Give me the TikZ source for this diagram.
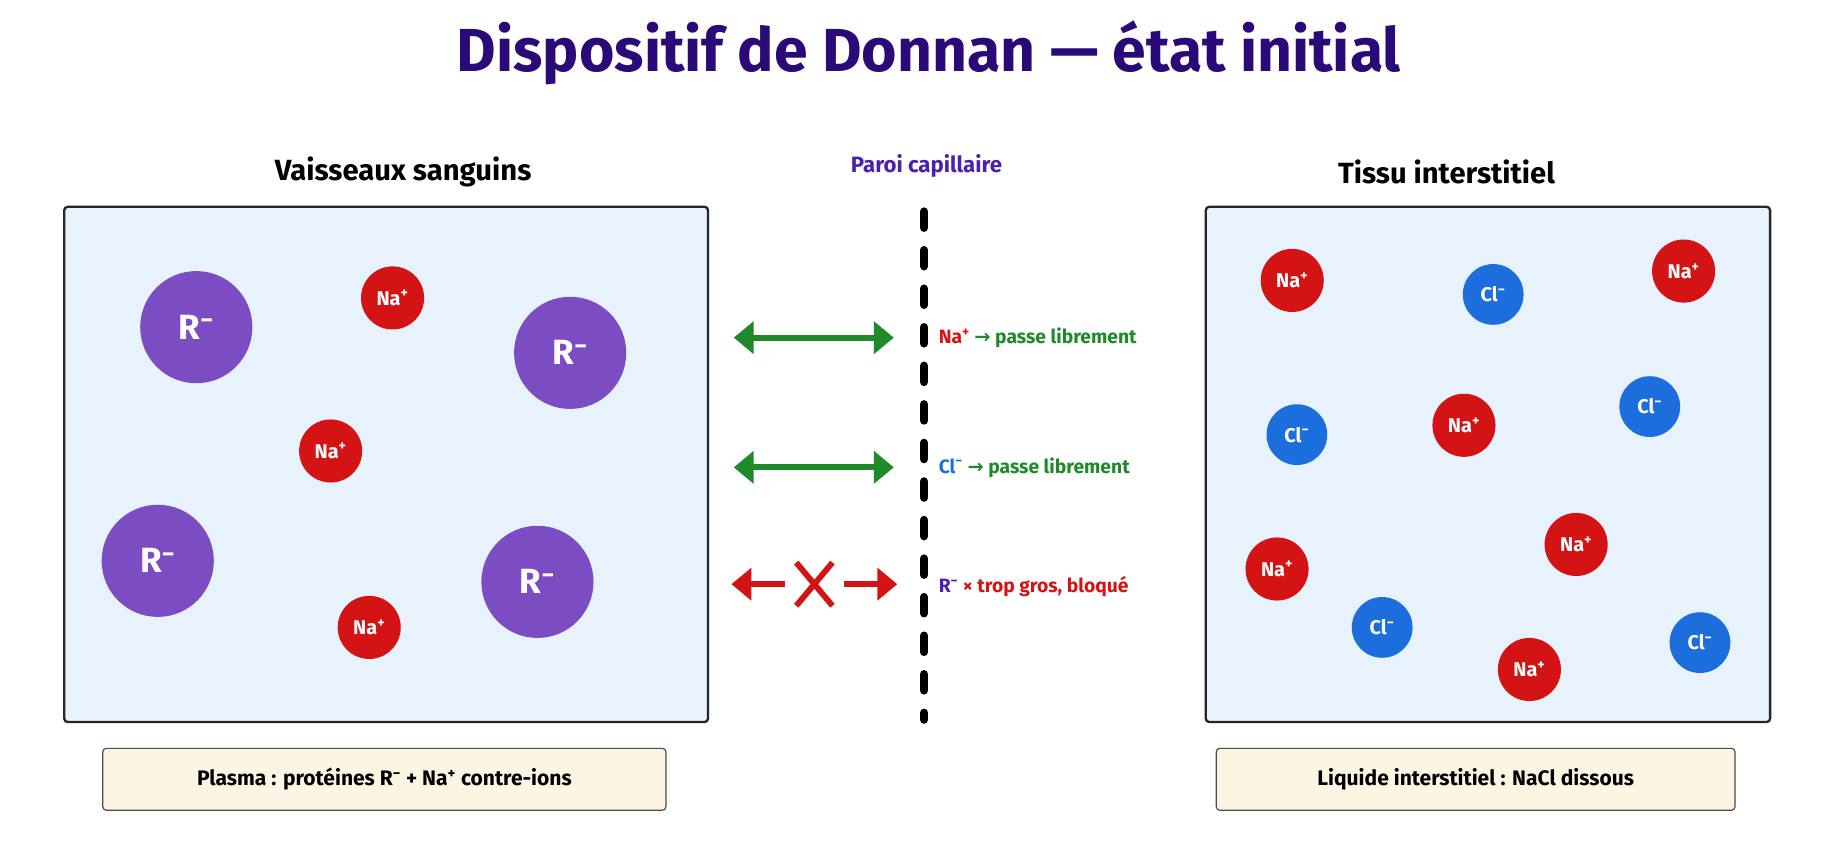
\documentclass[tikz,border=0pt]{standalone}
\usepackage{fontspec}
\setmainfont{Fira Sans}
\newfontfamily\djv{DejaVu Sans}
\usetikzlibrary{arrows.meta,shapes.misc}
\definecolor{titc}{HTML}{2A0A78}
\definecolor{pur}{HTML}{4B1FB0}
\definecolor{rcol}{HTML}{7B4CC2}
\definecolor{nacol}{HTML}{D41414}
\definecolor{clcol}{HTML}{1C6EDC}
\definecolor{gcol}{HTML}{1E8A2A}
\definecolor{boxf}{HTML}{E8F2FC}
\definecolor{capf}{HTML}{FDF5E3}
\newcommand{\supx}[1]{\textsuperscript{#1}}
\newcommand{\mn}{\supx{−}}
\begin{document}
\begin{tikzpicture}[x=1pt,y=-1pt,
  big/.style={circle,fill=rcol,minimum size=96pt,inner sep=0pt,text=white,font=\fontsize{30}{30}\selectfont\bfseries},
  na/.style={circle,fill=nacol,minimum size=54pt,inner sep=0pt,text=white,font=\fontsize{17}{17}\selectfont\bfseries},
  cl/.style={circle,fill=clcol,minimum size=52pt,inner sep=0pt,text=white,font=\fontsize{17}{17}\selectfont\bfseries},
  panel/.style={draw=black!85,line width=2pt,fill=boxf,rounded corners=3pt},
  capbox/.style={draw=black!70,line width=1pt,fill=capf,rounded corners=3pt,font=\fontsize{18}{18}\selectfont\bfseries},
  lab/.style={anchor=west,font=\fontsize{16.5}{17}\selectfont\bfseries},
  garr/.style={gcol,line width=5pt,{Triangle[length=17pt,width=27pt]}-{Triangle[length=17pt,width=27pt]}},
  rarr/.style={nacol,line width=5pt,-{Triangle[length=17pt,width=27pt]}}]
\useasboundingbox[fill=white] (0,0) rectangle (1568,735);
\node[font=\fontsize{52}{52}\selectfont\bfseries,text=titc] (title) at (795,45) {Dispositif de Donnan — état initial};
\node[font=\fontsize{25}{25}\selectfont\bfseries] (h1) at (345,147) {Vaisseaux sanguins};
\node[font=\fontsize{25}{25}\selectfont\bfseries] (h2) at (1238,147) {Tissu interstitiel};
\node[font=\fontsize{19}{19}\selectfont\bfseries,text=pur] (h3) at (793,142) {Paroi capillaire};
\draw[panel] (55,177) rectangle (606,618);
\draw[panel] (1032,177) rectangle (1515,618);
\coordinate (w1) at (791,181); \coordinate (w2) at (791,616);
\draw[line width=7pt,dash pattern=on 14pt off 19pt,line cap=round] (w1) -- (w2);
% left ions
\node[big] (r1) at (168,280) {R\mn};
\node[big] (r2) at (488,302) {R\mn};
\node[big] (r3) at (135,480) {R\mn};
\node[big] (r4) at (460,498) {R\mn};
\node[na] (n1) at (336,255) {Na\supx{+}};
\node[na] (n2) at (283,386) {Na\supx{+}};
\node[na] (n3) at (316,537) {Na\supx{+}};
% right ions
\node[na] (m1) at (1106,240) {Na\supx{+}};
\node[cl] (c1) at (1278,252) {Cl\mn};
\node[na] (m2) at (1441,232) {Na\supx{+}};
\node[cl] (c2) at (1110,372) {Cl\mn};
\node[na] (m3) at (1253,364) {Na\supx{+}};
\node[cl] (c3) at (1412,348) {Cl\mn};
\node[na] (m4) at (1093,487) {Na\supx{+}};
\node[na] (m5) at (1349,466) {Na\supx{+}};
\node[cl] (c4) at (1183,537) {Cl\mn};
\node[na] (m6) at (1309,573) {Na\supx{+}};
\node[cl] (c5) at (1455,550) {Cl\mn};
% arrows
\coordinate (a1) at (628,289); \coordinate (b1) at (765,289);
\coordinate (a2) at (628,400); \coordinate (b2) at (765,400);
\draw[garr] (a1) -- (b1);
\draw[garr] (a2) -- (b2);
\coordinate (a3) at (672,500); \coordinate (b3) at (626,500);
\coordinate (a4) at (722,500); \coordinate (b4) at (768,500);
\draw[rarr] (a3) -- (b3);
\draw[rarr] (a4) -- (b4);
\node[nacol,line width=5pt,draw,cross out,minimum width=26pt,minimum height=32pt,inner sep=0pt] (x) at (697,500) {};
\node[lab] (t1) at (800,289) {\textcolor{nacol}{Na\supx{+}} \textcolor{gcol}{{\djv →} passe librement}};
\node[lab] (t2) at (800,400) {\textcolor{clcol}{Cl\mn} \textcolor{gcol}{{\djv →} passe librement}};
\node[lab] (t3) at (800,502) {\textcolor{pur}{R\mn} \textcolor{nacol}{× trop gros, bloqué}};
\node[capbox,minimum width=482pt,minimum height=53pt] (cp1) at (329,667) {Plasma : protéines R\mn{} + Na\supx{+} contre-ions};
\node[capbox,minimum width=444pt,minimum height=53pt] (cp2) at (1263,667) {Liquide interstitiel : NaCl dissous};
\end{tikzpicture}
\end{document}
